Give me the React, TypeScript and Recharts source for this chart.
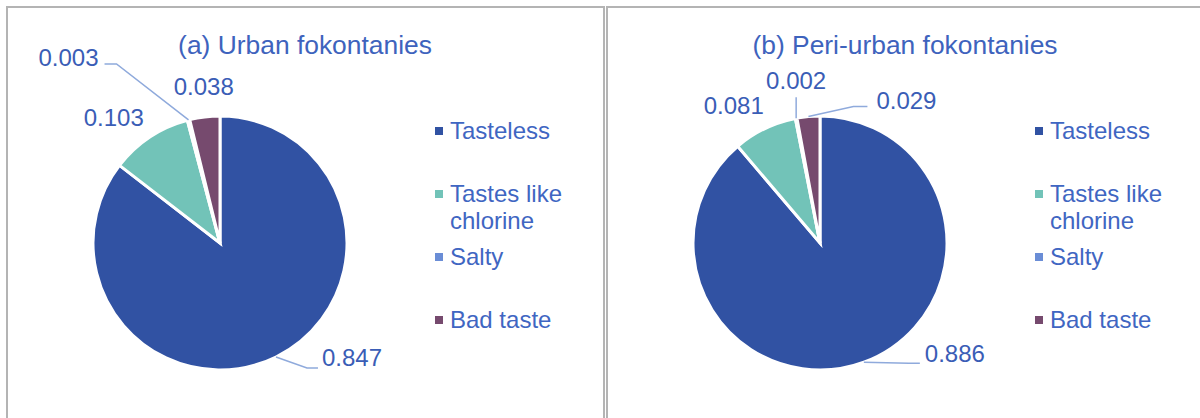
import React from "react";
import { PieChart, Pie, Cell, Legend } from "recharts";

const categories = ["Tasteless", "Tastes like chlorine", "Salty", "Bad taste"];
const urbanValues = [0.847, 0.103, 0.003, 0.038];
const periValues = [0.886, 0.081, 0.002, 0.029];
const titles = ["(a) Urban fokontanies", "(b) Peri-urban fokontanies"];
const legendLines = [["Tasteless"], ["Tastes like", "chlorine"], ["Salty"], ["Bad taste"]];

const COLORS = ["#3152A3", "#72C3B8", "#6A8DD6", "#764A6E"];
const TEXT = "#3A5DB6";
const LEADER = "#8FAADC";
const FONT = "'Liberation Sans', Arial, sans-serif";

type LabelCfg = { dx: number; dy: number; line?: { ex: number; ey: number; elbow: number } };

const urbanLabelCfg: LabelCfg[] = [
  { dx: 76, dy: 1, line: { ex: -34, ey: 10, elbow: -11 } },
  { dx: -36, dy: -20 },
  { dx: -120, dy: -62, line: { ex: 36, ey: 6, elbow: 12 } },
  { dx: -1, dy: -30 },
];
const periLabelCfg: LabelCfg[] = [
  { dx: 91, dy: -9, line: { ex: -35, ey: 10, elbow: -11 } },
  { dx: -31, dy: -23 },
  { dx: 0, dy: -38, line: { ex: 0, ey: 17, elbow: 0 } },
  { dx: 98, dy: -16, line: { ex: -39, ey: 6, elbow: -14 } },
];

const RAD = Math.PI / 180;

function makeLabel(cfgs: LabelCfg[]) {
  return (props: any) => {
    const { cx, cy, midAngle, outerRadius, index, value } = props;
    const ex = cx + Math.cos(-midAngle * RAD) * outerRadius;
    const ey = cy + Math.sin(-midAngle * RAD) * outerRadius;
    const c = cfgs[index];
    const lx = ex + c.dx;
    const ly = ey + c.dy;
    let line = null;
    if (c.line) {
      const endX = lx + c.line.ex;
      const endY = ly + c.line.ey;
      const elX = endX + c.line.elbow;
      line = (
        <polyline
          points={`${ex},${ey} ${elX},${endY} ${endX},${endY}`}
          fill="none"
          stroke={LEADER}
          strokeWidth={1.5}
        />
      );
    }
    return (
      <g key={`lbl-${index}`}>
        {line}
        <text
          x={lx}
          y={ly}
          textAnchor="middle"
          dominantBaseline="central"
          fill={TEXT}
          fontSize={24}
          fontFamily={FONT}
        >
          {Number(value).toFixed(3)}
        </text>
      </g>
    );
  };
}

const LegendContent = () => (
  <div style={{ fontFamily: FONT, fontSize: 24, color: "#3F66C2" }}>
    {legendLines.map((lines, i) => (
      <div key={i} style={{ height: 63, position: "relative", paddingLeft: 15, lineHeight: "27px" }}>
        <div
          style={{
            position: "absolute",
            left: 0,
            top: 10,
            width: 8,
            height: 8,
            background: COLORS[i],
          }}
        />
        {lines.map((t, j) => (
          <div key={j}>{t}</div>
        ))}
      </div>
    ))}
  </div>
);

function Panel({ values, title, cfg, left }: { values: number[]; title: string; cfg: LabelCfg[]; left: number }) {
  const data = categories.map((name, i) => ({ name, value: values[i] }));
  return (
    <div style={{ position: "absolute", left, top: 0, width: 600, height: 418 }}>
      <div
        style={{
          position: "absolute",
          left: 0,
          width: 610,
          top: 28,
          textAlign: "center",
          fontFamily: FONT,
          fontSize: 26.4,
          color: "#3E63BD",
          lineHeight: "34px",
        }}
      >
        {title}
      </div>
      <PieChart
        width={600}
        height={418}
        margin={{ top: 0, right: 0, bottom: 0, left: 0 }}
        style={{ position: "absolute", left: 0, top: 0 }}
      >
        <Pie
          data={data}
          dataKey="value"
          nameKey="name"
          cx={220}
          cy={243}
          outerRadius={127}
          startAngle={90}
          endAngle={-270}
          stroke="#ffffff"
          strokeWidth={3}
          label={makeLabel(cfg)}
          labelLine={false}
          isAnimationActive={false}
        >
          {data.map((d, i) => (
            <Cell key={d.name} fill={COLORS[i]} />
          ))}
        </Pie>
        <Legend
          layout="vertical"
          content={<LegendContent />}
          wrapperStyle={{ position: "absolute", left: 435, top: 117, width: 160 }}
        />
      </PieChart>
    </div>
  );
}

export default function App() {
  return (
    <div style={{ position: "absolute", left: 0, top: 0, width: 1200, height: 418, background: "#fff", overflow: "hidden" }}>
      <div
        style={{
          position: "absolute",
          left: 6,
          top: 6,
          width: 595,
          height: 430,
          border: "2px solid #B4B4B4",
        }}
      />
      <div
        style={{
          position: "absolute",
          left: 606,
          top: 6,
          width: 620,
          height: 430,
          border: "2px solid #B4B4B4",
        }}
      />
      <Panel values={urbanValues} title={titles[0]} cfg={urbanLabelCfg} left={0} />
      <Panel values={periValues} title={titles[1]} cfg={periLabelCfg} left={600} />
    </div>
  );
}
